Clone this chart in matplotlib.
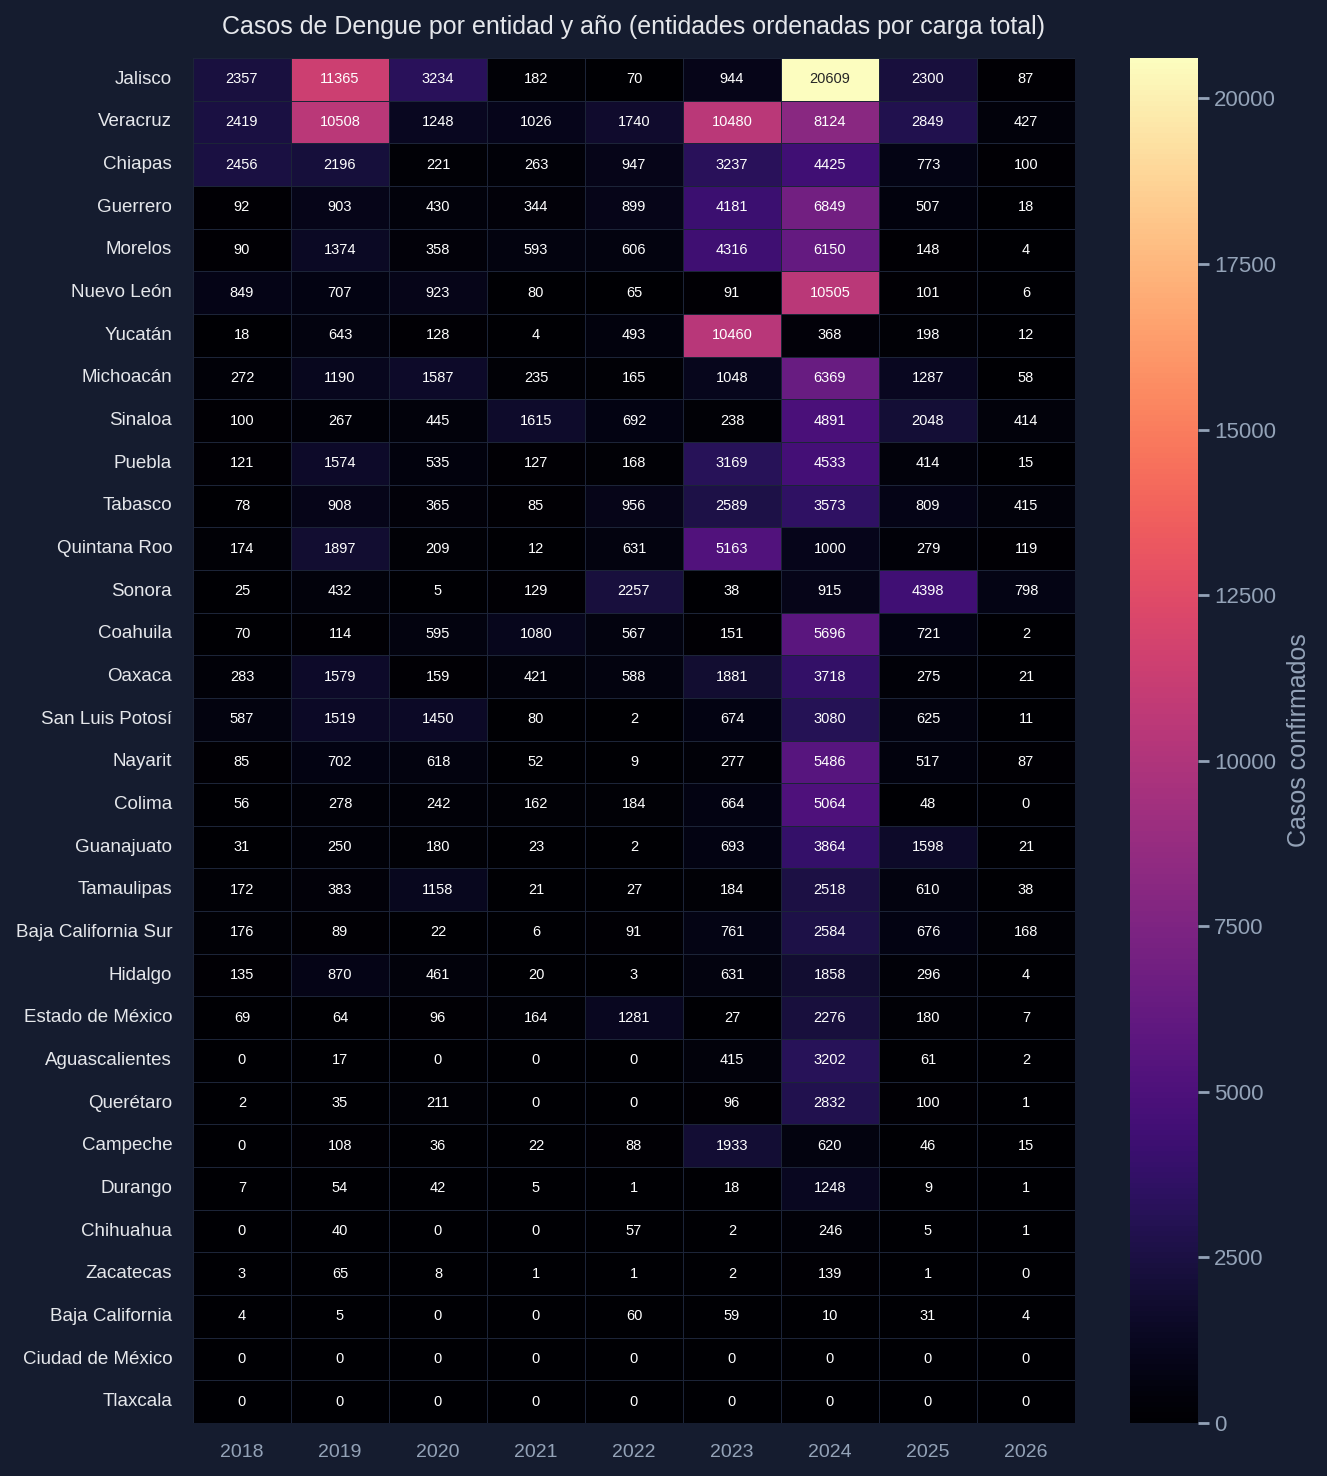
import matplotlib
matplotlib.use("Agg")
import matplotlib.pyplot as plt
import seaborn as sns
import numpy as np
import pandas as pd

years = ["2018", "2019", "2020", "2021", "2022", "2023", "2024", "2025", "2026"]
states = ["Jalisco", "Veracruz", "Chiapas", "Guerrero", "Morelos", "Nuevo León", "Yucatán",
          "Michoacán", "Sinaloa", "Puebla", "Tabasco", "Quintana Roo", "Sonora", "Coahuila",
          "Oaxaca", "San Luis Potosí", "Nayarit", "Colima", "Guanajuato", "Tamaulipas",
          "Baja California Sur", "Hidalgo", "Estado de México", "Aguascalientes", "Querétaro",
          "Campeche", "Durango", "Chihuahua", "Zacatecas", "Baja California",
          "Ciudad de México", "Tlaxcala"]
cases = [
    [2357, 11365, 3234, 182, 70, 944, 20609, 2300, 87],
    [2419, 10508, 1248, 1026, 1740, 10480, 8124, 2849, 427],
    [2456, 2196, 221, 263, 947, 3237, 4425, 773, 100],
    [92, 903, 430, 344, 899, 4181, 6849, 507, 18],
    [90, 1374, 358, 593, 606, 4316, 6150, 148, 4],
    [849, 707, 923, 80, 65, 91, 10505, 101, 6],
    [18, 643, 128, 4, 493, 10460, 368, 198, 12],
    [272, 1190, 1587, 235, 165, 1048, 6369, 1287, 58],
    [100, 267, 445, 1615, 692, 238, 4891, 2048, 414],
    [121, 1574, 535, 127, 168, 3169, 4533, 414, 15],
    [78, 908, 365, 85, 956, 2589, 3573, 809, 415],
    [174, 1897, 209, 12, 631, 5163, 1000, 279, 119],
    [25, 432, 5, 129, 2257, 38, 915, 4398, 798],
    [70, 114, 595, 1080, 567, 151, 5696, 721, 2],
    [283, 1579, 159, 421, 588, 1881, 3718, 275, 21],
    [587, 1519, 1450, 80, 2, 674, 3080, 625, 11],
    [85, 702, 618, 52, 9, 277, 5486, 517, 87],
    [56, 278, 242, 162, 184, 664, 5064, 48, 0],
    [31, 250, 180, 23, 2, 693, 3864, 1598, 21],
    [172, 383, 1158, 21, 27, 184, 2518, 610, 38],
    [176, 89, 22, 6, 91, 761, 2584, 676, 168],
    [135, 870, 461, 20, 3, 631, 1858, 296, 4],
    [69, 64, 96, 164, 1281, 27, 2276, 180, 7],
    [0, 17, 0, 0, 0, 415, 3202, 61, 2],
    [2, 35, 211, 0, 0, 96, 2832, 100, 1],
    [0, 108, 36, 22, 88, 1933, 620, 46, 15],
    [7, 54, 42, 5, 1, 18, 1248, 9, 1],
    [0, 40, 0, 0, 57, 2, 246, 5, 1],
    [3, 65, 8, 1, 1, 2, 139, 1, 0],
    [4, 5, 0, 0, 60, 59, 10, 31, 4],
    [0, 0, 0, 0, 0, 0, 0, 0, 0],
    [0, 0, 0, 0, 0, 0, 0, 0, 0],
]

bg = "#151c2f"
plt.rcParams["font.family"] = ["Liberation Sans", "DejaVu Sans"]

df = pd.DataFrame(cases, index=states, columns=years)

fig = plt.figure(figsize=(13.27, 14.76), dpi=100, facecolor=bg)
ax = fig.add_axes([193/1327, 1 - 1423/1476, (1075-193)/1327, (1423-58)/1476])
cax = fig.add_axes([1130/1327, 1 - 1423/1476, (1198-1130)/1327, (1423-58)/1476])
ax.set_facecolor(bg)

sns.heatmap(df, ax=ax, cbar_ax=cax, cmap="magma", annot=True, fmt="d",
            annot_kws={"size": 10.5}, linewidths=0.5, linecolor="#1c2438",
            cbar_kws={"label": "Casos confirmados"})

ax.set_title("Casos de Dengue por entidad y año (entidades ordenadas por carga total)",
             color="#e5e7eb", fontsize=18, pad=17)
ax.set_xlabel("")
ax.set_ylabel("")
ax.tick_params(axis="x", colors="#94a3b8", labelsize=14, length=0, pad=15, rotation=0)
ax.tick_params(axis="y", colors="#e5e7eb", labelsize=13.5, length=0, pad=15, rotation=0)
for t in ax.get_yticklabels():
    t.set_color("#e5e7eb")
for t in ax.get_xticklabels():
    t.set_color("#94a3b8")

cax.tick_params(colors="#94a3b8", labelsize=16, length=8, width=2)
for t in cax.get_yticklabels():
    t.set_color("#94a3b8")
cax.set_ylabel("Casos confirmados", color="#94a3b8", fontsize=18, labelpad=8)
for s in cax.spines.values():
    s.set_visible(False)

fig.savefig("out.png", dpi=100, facecolor=bg)
